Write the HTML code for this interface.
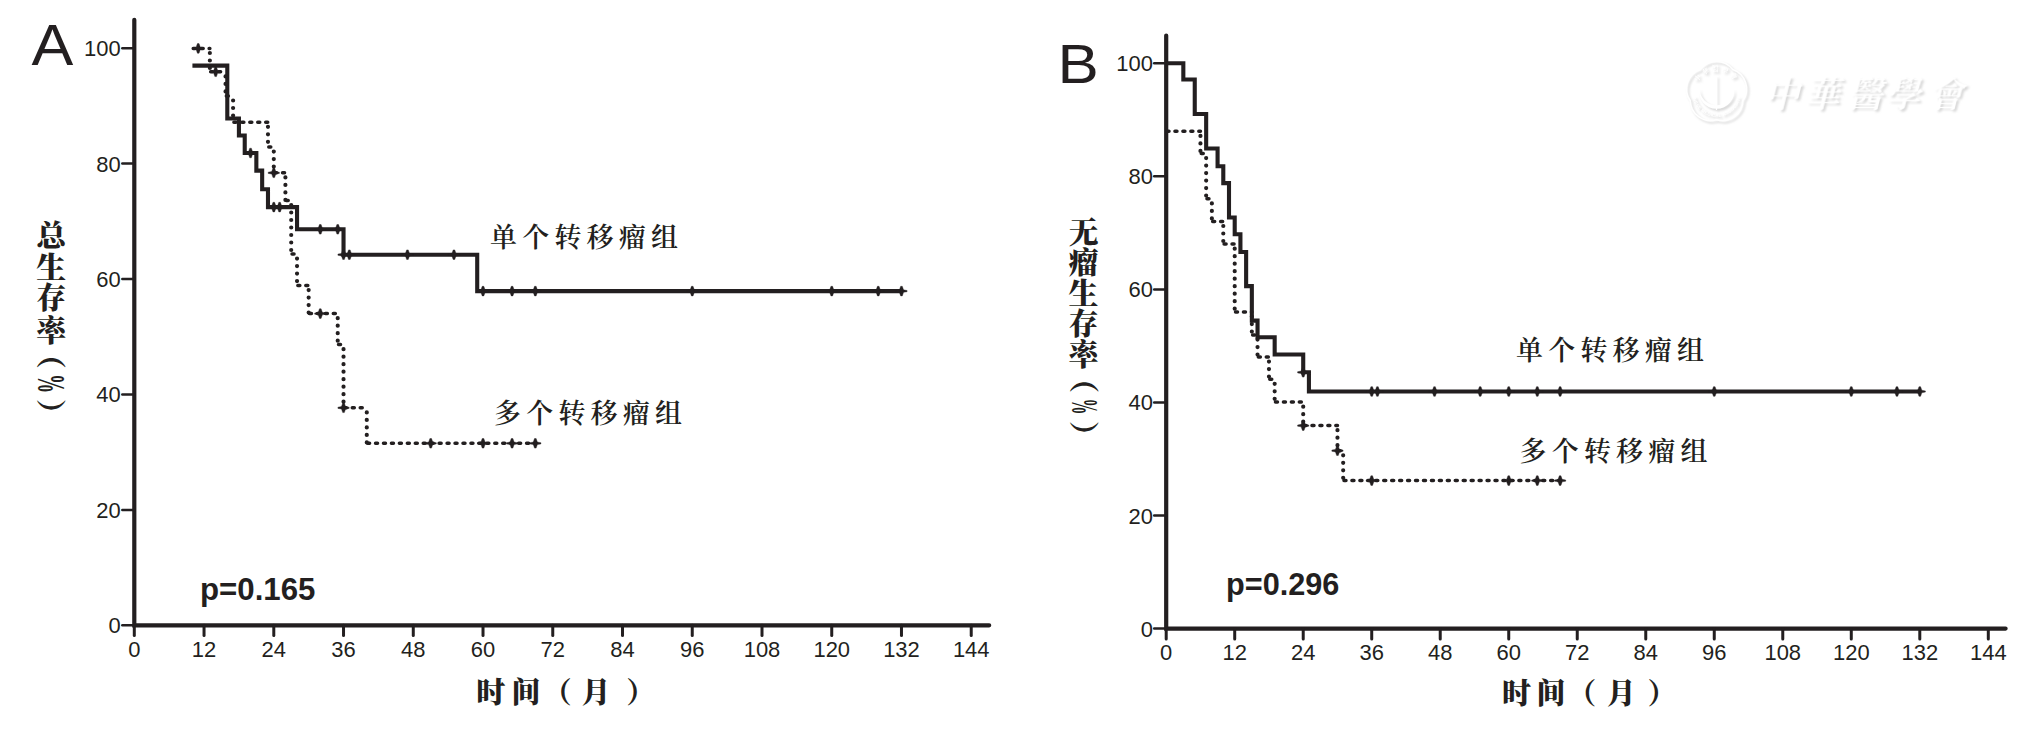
<!DOCTYPE html>
<html lang="zh-CN">
<head>
<meta charset="utf-8">
<title>生存曲线</title>
<style>
html,body{margin:0;padding:0;background:#fff;}
#fig{position:relative;width:2027px;height:730px;background:#fff;overflow:hidden;}
#fig svg{position:absolute;left:0;top:0;display:block;}
</style>
</head>
<body>
<div id="fig">
<svg width="2027" height="730" viewBox="0 0 2027 730" font-family="'Liberation Sans', sans-serif" fill="#231f20">
<!-- chart A -->
<path d="M134.3 19.8 V625.3 H989.2" fill="none" stroke="#231f20" stroke-width="4.2" stroke-linecap="round" stroke-linejoin="miter"/>
<path d="M122.3 625.3 H134.3" stroke="#231f20" stroke-width="2.5" stroke-linecap="round"/>
<text transform="translate(120.7 633.3) scale(0.963 1)" text-anchor="end" font-size="22.8">0</text>
<path d="M122.3 509.88 H134.3" stroke="#231f20" stroke-width="2.5" stroke-linecap="round"/>
<text transform="translate(120.7 517.88) scale(0.963 1)" text-anchor="end" font-size="22.8">20</text>
<path d="M122.3 394.46 H134.3" stroke="#231f20" stroke-width="2.5" stroke-linecap="round"/>
<text transform="translate(120.7 402.46) scale(0.963 1)" text-anchor="end" font-size="22.8">40</text>
<path d="M122.3 279.04 H134.3" stroke="#231f20" stroke-width="2.5" stroke-linecap="round"/>
<text transform="translate(120.7 287.04) scale(0.963 1)" text-anchor="end" font-size="22.8">60</text>
<path d="M122.3 163.62 H134.3" stroke="#231f20" stroke-width="2.5" stroke-linecap="round"/>
<text transform="translate(120.7 171.62) scale(0.963 1)" text-anchor="end" font-size="22.8">80</text>
<path d="M122.3 48.2 H134.3" stroke="#231f20" stroke-width="2.5" stroke-linecap="round"/>
<text transform="translate(120.7 56.2) scale(0.963 1)" text-anchor="end" font-size="22.8">100</text>
<path d="M134.3 625.3 V635.6" stroke="#231f20" stroke-width="3.0" stroke-linecap="round"/>
<text transform="translate(134.3 657.3) scale(0.963 1)" text-anchor="middle" font-size="22.8">0</text>
<path d="M204.04 625.3 V635.6" stroke="#231f20" stroke-width="3.0" stroke-linecap="round"/>
<text transform="translate(204.04 657.3) scale(0.963 1)" text-anchor="middle" font-size="22.8">12</text>
<path d="M273.79 625.3 V635.6" stroke="#231f20" stroke-width="3.0" stroke-linecap="round"/>
<text transform="translate(273.79 657.3) scale(0.963 1)" text-anchor="middle" font-size="22.8">24</text>
<path d="M343.53 625.3 V635.6" stroke="#231f20" stroke-width="3.0" stroke-linecap="round"/>
<text transform="translate(343.53 657.3) scale(0.963 1)" text-anchor="middle" font-size="22.8">36</text>
<path d="M413.28 625.3 V635.6" stroke="#231f20" stroke-width="3.0" stroke-linecap="round"/>
<text transform="translate(413.28 657.3) scale(0.963 1)" text-anchor="middle" font-size="22.8">48</text>
<path d="M483.02 625.3 V635.6" stroke="#231f20" stroke-width="3.0" stroke-linecap="round"/>
<text transform="translate(483.02 657.3) scale(0.963 1)" text-anchor="middle" font-size="22.8">60</text>
<path d="M552.76 625.3 V635.6" stroke="#231f20" stroke-width="3.0" stroke-linecap="round"/>
<text transform="translate(552.76 657.3) scale(0.963 1)" text-anchor="middle" font-size="22.8">72</text>
<path d="M622.51 625.3 V635.6" stroke="#231f20" stroke-width="3.0" stroke-linecap="round"/>
<text transform="translate(622.51 657.3) scale(0.963 1)" text-anchor="middle" font-size="22.8">84</text>
<path d="M692.25 625.3 V635.6" stroke="#231f20" stroke-width="3.0" stroke-linecap="round"/>
<text transform="translate(692.25 657.3) scale(0.963 1)" text-anchor="middle" font-size="22.8">96</text>
<path d="M762 625.3 V635.6" stroke="#231f20" stroke-width="3.0" stroke-linecap="round"/>
<text transform="translate(762 657.3) scale(0.963 1)" text-anchor="middle" font-size="22.8">108</text>
<path d="M831.74 625.3 V635.6" stroke="#231f20" stroke-width="3.0" stroke-linecap="round"/>
<text transform="translate(831.74 657.3) scale(0.963 1)" text-anchor="middle" font-size="22.8">120</text>
<path d="M901.48 625.3 V635.6" stroke="#231f20" stroke-width="3.0" stroke-linecap="round"/>
<text transform="translate(901.48 657.3) scale(0.963 1)" text-anchor="middle" font-size="22.8">132</text>
<path d="M971.23 625.3 V635.6" stroke="#231f20" stroke-width="3.0" stroke-linecap="round"/>
<text transform="translate(971.23 657.3) scale(0.963 1)" text-anchor="middle" font-size="22.8">144</text>
<path d="M193.22 48.4H209.86 M210.66 71.8H225.55 M226.35 95.9H233.1 M233.9 122.2H267.98 M268.78 147H273.79 M274.59 172.8H285.41 M286.21 200.4H291.22 M292.02 254H297.04 M297.84 285.5H308.66 M309.46 313.6H337.72 M338.52 344.6H343.53 M344.33 407.8H366.78 M367.58 443.3H535.33" fill="none" stroke="#231f20" stroke-width="3.5" stroke-linecap="round" stroke-dasharray="2 5.95"/>
<path d="M209.86 48.4V71.8 M225.55 71.8V95.9 M233.1 95.9V122.2 M267.98 122.2V147 M273.79 147V172.8 M285.41 172.8V200.4 M291.22 200.4V254 M297.04 254V285.5 M308.66 285.5V313.6 M337.72 313.6V344.6 M343.53 344.6V407.8 M366.78 407.8V443.3" fill="none" stroke="#231f20" stroke-width="4.2" stroke-linecap="round" stroke-dasharray="0.01 7.49" stroke-dashoffset="-4.6"/>
<path d="M192.42 65.6 L227.29 65.6 L227.29 118.5 L238.92 118.5 L238.92 135.5 L244.73 135.5 L244.73 153 L256.35 153 L256.35 170.6 L262.16 170.6 L262.16 189.2 L267.98 189.2 L267.98 207.1 L297.04 207.1 L297.04 229.3 L343.53 229.3 L343.53 254.7 L477.21 254.7 L477.21 291.1 L901.48 291.1" fill="none" stroke="#231f20" stroke-width="4.1" stroke-linejoin="miter"/>
<g fill="#231f20" stroke="#231f20" stroke-width="0.4" stroke-linejoin="round">
<path d="M249.74 148.2L251.34 148.2L252.39 151.2L252.39 154.8L251.34 157.8L249.74 157.8L248.69 154.8L248.69 151.2ZM244.94 152.4L248.54 151.75L252.54 151.75L256.14 152.4L256.14 153.6L252.54 154.25L248.54 154.25L244.94 153.6Z"/>
<path d="M272.99 202.3L274.59 202.3L275.64 205.3L275.64 208.9L274.59 211.9L272.99 211.9L271.94 208.9L271.94 205.3ZM268.19 206.5L271.79 205.85L275.79 205.85L279.39 206.5L279.39 207.7L275.79 208.35L271.79 208.35L268.19 207.7Z"/>
<path d="M278.8 202.3L280.4 202.3L281.45 205.3L281.45 208.9L280.4 211.9L278.8 211.9L277.75 208.9L277.75 205.3ZM274 206.5L277.6 205.85L281.6 205.85L285.2 206.5L285.2 207.7L281.6 208.35L277.6 208.35L274 207.7Z"/>
<path d="M319.48 224.5L321.08 224.5L322.13 227.5L322.13 231.1L321.08 234.1L319.48 234.1L318.43 231.1L318.43 227.5ZM314.68 228.7L318.28 228.05L322.28 228.05L325.88 228.7L325.88 229.9L322.28 230.55L318.28 230.55L314.68 229.9Z"/>
<path d="M336.92 224.5L338.52 224.5L339.57 227.5L339.57 231.1L338.52 234.1L336.92 234.1L335.87 231.1L335.87 227.5ZM332.12 228.7L335.72 228.05L339.72 228.05L343.32 228.7L343.32 229.9L339.72 230.55L335.72 230.55L332.12 229.9Z"/>
<path d="M342.73 249.9L344.33 249.9L345.38 252.9L345.38 256.5L344.33 259.5L342.73 259.5L341.68 256.5L341.68 252.9ZM337.93 254.1L341.53 253.45L345.53 253.45L349.13 254.1L349.13 255.3L345.53 255.95L341.53 255.95L337.93 255.3Z"/>
<path d="M348.54 249.9L350.14 249.9L351.19 252.9L351.19 256.5L350.14 259.5L348.54 259.5L347.49 256.5L347.49 252.9ZM343.74 254.1L347.34 253.45L351.34 253.45L354.94 254.1L354.94 255.3L351.34 255.95L347.34 255.95L343.74 255.3Z"/>
<path d="M406.66 249.9L408.26 249.9L409.31 252.9L409.31 256.5L408.26 259.5L406.66 259.5L405.61 256.5L405.61 252.9ZM401.86 254.1L405.46 253.45L409.46 253.45L413.06 254.1L413.06 255.3L409.46 255.95L405.46 255.95L401.86 255.3Z"/>
<path d="M453.16 249.9L454.76 249.9L455.81 252.9L455.81 256.5L454.76 259.5L453.16 259.5L452.11 256.5L452.11 252.9ZM448.36 254.1L451.96 253.45L455.96 253.45L459.56 254.1L459.56 255.3L455.96 255.95L451.96 255.95L448.36 255.3Z"/>
<path d="M482.22 286.3L483.82 286.3L484.87 289.3L484.87 292.9L483.82 295.9L482.22 295.9L481.17 292.9L481.17 289.3ZM477.42 290.5L481.02 289.85L485.02 289.85L488.62 290.5L488.62 291.7L485.02 292.35L481.02 292.35L477.42 291.7Z"/>
<path d="M511.28 286.3L512.88 286.3L513.93 289.3L513.93 292.9L512.88 295.9L511.28 295.9L510.23 292.9L510.23 289.3ZM506.48 290.5L510.08 289.85L514.08 289.85L517.68 290.5L517.68 291.7L514.08 292.35L510.08 292.35L506.48 291.7Z"/>
<path d="M534.53 286.3L536.13 286.3L537.18 289.3L537.18 292.9L536.13 295.9L534.53 295.9L533.48 292.9L533.48 289.3ZM529.73 290.5L533.33 289.85L537.33 289.85L540.93 290.5L540.93 291.7L537.33 292.35L533.33 292.35L529.73 291.7Z"/>
<path d="M691.45 286.3L693.05 286.3L694.1 289.3L694.1 292.9L693.05 295.9L691.45 295.9L690.4 292.9L690.4 289.3ZM686.65 290.5L690.25 289.85L694.25 289.85L697.85 290.5L697.85 291.7L694.25 292.35L690.25 292.35L686.65 291.7Z"/>
<path d="M830.94 286.3L832.54 286.3L833.59 289.3L833.59 292.9L832.54 295.9L830.94 295.9L829.89 292.9L829.89 289.3ZM826.14 290.5L829.74 289.85L833.74 289.85L837.34 290.5L837.34 291.7L833.74 292.35L829.74 292.35L826.14 291.7Z"/>
<path d="M877.44 286.3L879.04 286.3L880.09 289.3L880.09 292.9L879.04 295.9L877.44 295.9L876.39 292.9L876.39 289.3ZM872.64 290.5L876.24 289.85L880.24 289.85L883.84 290.5L883.84 291.7L880.24 292.35L876.24 292.35L872.64 291.7Z"/>
<path d="M900.68 286.3L902.28 286.3L903.33 289.3L903.33 292.9L902.28 295.9L900.68 295.9L899.63 292.9L899.63 289.3ZM895.88 290.5L899.48 289.85L903.48 289.85L907.08 290.5L907.08 291.7L903.48 292.35L899.48 292.35L895.88 291.7Z"/>
<path d="M197.43 43.6L199.03 43.6L200.08 46.6L200.08 50.2L199.03 53.2L197.43 53.2L196.38 50.2L196.38 46.6ZM192.63 47.8L196.23 47.15L200.23 47.15L203.83 47.8L203.83 49L200.23 49.65L196.23 49.65L192.63 49Z"/>
<path d="M214.87 67L216.47 67L217.52 70L217.52 73.6L216.47 76.6L214.87 76.6L213.82 73.6L213.82 70ZM210.07 71.2L213.67 70.55L217.67 70.55L221.27 71.2L221.27 72.4L217.67 73.05L213.67 73.05L210.07 72.4Z"/>
<path d="M272.99 168L274.59 168L275.64 171L275.64 174.6L274.59 177.6L272.99 177.6L271.94 174.6L271.94 171ZM268.19 172.2L271.79 171.55L275.79 171.55L279.39 172.2L279.39 173.4L275.79 174.05L271.79 174.05L268.19 173.4Z"/>
<path d="M319.48 308.8L321.08 308.8L322.13 311.8L322.13 315.4L321.08 318.4L319.48 318.4L318.43 315.4L318.43 311.8ZM314.68 313L318.28 312.35L322.28 312.35L325.88 313L325.88 314.2L322.28 314.85L318.28 314.85L314.68 314.2Z"/>
<path d="M342.73 403L344.33 403L345.38 406L345.38 409.6L344.33 412.6L342.73 412.6L341.68 409.6L341.68 406ZM337.93 407.2L341.53 406.55L345.53 406.55L349.13 407.2L349.13 408.4L345.53 409.05L341.53 409.05L337.93 408.4Z"/>
<path d="M429.91 438.5L431.51 438.5L432.56 441.5L432.56 445.1L431.51 448.1L429.91 448.1L428.86 445.1L428.86 441.5ZM425.11 442.7L428.71 442.05L432.71 442.05L436.31 442.7L436.31 443.9L432.71 444.55L428.71 444.55L425.11 443.9Z"/>
<path d="M482.22 438.5L483.82 438.5L484.87 441.5L484.87 445.1L483.82 448.1L482.22 448.1L481.17 445.1L481.17 441.5ZM477.42 442.7L481.02 442.05L485.02 442.05L488.62 442.7L488.62 443.9L485.02 444.55L481.02 444.55L477.42 443.9Z"/>
<path d="M511.28 438.5L512.88 438.5L513.93 441.5L513.93 445.1L512.88 448.1L511.28 448.1L510.23 445.1L510.23 441.5ZM506.48 442.7L510.08 442.05L514.08 442.05L517.68 442.7L517.68 443.9L514.08 444.55L510.08 444.55L506.48 443.9Z"/>
<path d="M534.53 438.5L536.13 438.5L537.18 441.5L537.18 445.1L536.13 448.1L534.53 448.1L533.48 445.1L533.48 441.5ZM529.73 442.7L533.33 442.05L537.33 442.05L540.93 442.7L540.93 443.9L537.33 444.55L533.33 444.55L529.73 443.9Z"/>
</g>
<!-- chart B -->
<path d="M1166.2 35.5 V628.6 H2005.6" fill="none" stroke="#231f20" stroke-width="4.2" stroke-linecap="round" stroke-linejoin="miter"/>
<path d="M1154.2 628.6 H1166.2" stroke="#231f20" stroke-width="2.5" stroke-linecap="round"/>
<text transform="translate(1152.9 636.6) scale(0.963 1)" text-anchor="end" font-size="22.8">0</text>
<path d="M1154.2 515.54 H1166.2" stroke="#231f20" stroke-width="2.5" stroke-linecap="round"/>
<text transform="translate(1152.9 523.54) scale(0.963 1)" text-anchor="end" font-size="22.8">20</text>
<path d="M1154.2 402.48 H1166.2" stroke="#231f20" stroke-width="2.5" stroke-linecap="round"/>
<text transform="translate(1152.9 410.48) scale(0.963 1)" text-anchor="end" font-size="22.8">40</text>
<path d="M1154.2 289.42 H1166.2" stroke="#231f20" stroke-width="2.5" stroke-linecap="round"/>
<text transform="translate(1152.9 297.42) scale(0.963 1)" text-anchor="end" font-size="22.8">60</text>
<path d="M1154.2 176.36 H1166.2" stroke="#231f20" stroke-width="2.5" stroke-linecap="round"/>
<text transform="translate(1152.9 184.36) scale(0.963 1)" text-anchor="end" font-size="22.8">80</text>
<path d="M1154.2 63.3 H1166.2" stroke="#231f20" stroke-width="2.5" stroke-linecap="round"/>
<text transform="translate(1152.9 71.3) scale(0.963 1)" text-anchor="end" font-size="22.8">100</text>
<path d="M1166.2 628.6 V638.9" stroke="#231f20" stroke-width="3.0" stroke-linecap="round"/>
<text transform="translate(1166.2 660.1) scale(0.963 1)" text-anchor="middle" font-size="22.8">0</text>
<path d="M1234.71 628.6 V638.9" stroke="#231f20" stroke-width="3.0" stroke-linecap="round"/>
<text transform="translate(1234.71 660.1) scale(0.963 1)" text-anchor="middle" font-size="22.8">12</text>
<path d="M1303.22 628.6 V638.9" stroke="#231f20" stroke-width="3.0" stroke-linecap="round"/>
<text transform="translate(1303.22 660.1) scale(0.963 1)" text-anchor="middle" font-size="22.8">24</text>
<path d="M1371.72 628.6 V638.9" stroke="#231f20" stroke-width="3.0" stroke-linecap="round"/>
<text transform="translate(1371.72 660.1) scale(0.963 1)" text-anchor="middle" font-size="22.8">36</text>
<path d="M1440.23 628.6 V638.9" stroke="#231f20" stroke-width="3.0" stroke-linecap="round"/>
<text transform="translate(1440.23 660.1) scale(0.963 1)" text-anchor="middle" font-size="22.8">48</text>
<path d="M1508.74 628.6 V638.9" stroke="#231f20" stroke-width="3.0" stroke-linecap="round"/>
<text transform="translate(1508.74 660.1) scale(0.963 1)" text-anchor="middle" font-size="22.8">60</text>
<path d="M1577.25 628.6 V638.9" stroke="#231f20" stroke-width="3.0" stroke-linecap="round"/>
<text transform="translate(1577.25 660.1) scale(0.963 1)" text-anchor="middle" font-size="22.8">72</text>
<path d="M1645.76 628.6 V638.9" stroke="#231f20" stroke-width="3.0" stroke-linecap="round"/>
<text transform="translate(1645.76 660.1) scale(0.963 1)" text-anchor="middle" font-size="22.8">84</text>
<path d="M1714.26 628.6 V638.9" stroke="#231f20" stroke-width="3.0" stroke-linecap="round"/>
<text transform="translate(1714.26 660.1) scale(0.963 1)" text-anchor="middle" font-size="22.8">96</text>
<path d="M1782.77 628.6 V638.9" stroke="#231f20" stroke-width="3.0" stroke-linecap="round"/>
<text transform="translate(1782.77 660.1) scale(0.963 1)" text-anchor="middle" font-size="22.8">108</text>
<path d="M1851.28 628.6 V638.9" stroke="#231f20" stroke-width="3.0" stroke-linecap="round"/>
<text transform="translate(1851.28 660.1) scale(0.963 1)" text-anchor="middle" font-size="22.8">120</text>
<path d="M1919.79 628.6 V638.9" stroke="#231f20" stroke-width="3.0" stroke-linecap="round"/>
<text transform="translate(1919.79 660.1) scale(0.963 1)" text-anchor="middle" font-size="22.8">132</text>
<path d="M1988.3 628.6 V638.9" stroke="#231f20" stroke-width="3.0" stroke-linecap="round"/>
<text transform="translate(1988.3 660.1) scale(0.963 1)" text-anchor="middle" font-size="22.8">144</text>
<path d="M1167 131.3H1200.45 M1201.25 153.5H1206.16 M1206.96 198.8H1211.87 M1212.67 221.4H1223.29 M1224.09 244.1H1234.71 M1235.51 312H1251.84 M1252.63 335H1257.54 M1258.34 357H1268.96 M1269.76 379.2H1274.67 M1275.47 402.1H1303.22 M1304.02 425.6H1337.47 M1338.27 450.7H1343.18 M1343.98 480.6H1560.12" fill="none" stroke="#231f20" stroke-width="3.5" stroke-linecap="round" stroke-dasharray="2 5.95"/>
<path d="M1200.45 131.3V153.5 M1206.16 153.5V198.8 M1211.87 198.8V221.4 M1223.29 221.4V244.1 M1234.71 244.1V312 M1251.84 312V335 M1257.54 335V357 M1268.96 357V379.2 M1274.67 379.2V402.1 M1303.22 402.1V425.6 M1337.47 425.6V450.7 M1343.18 450.7V480.6" fill="none" stroke="#231f20" stroke-width="4.2" stroke-linecap="round" stroke-dasharray="0.01 7.49" stroke-dashoffset="-4.6"/>
<path d="M1166.2 63.3 L1183.33 63.3 L1183.33 79.5 L1194.75 79.5 L1194.75 114 L1206.16 114 L1206.16 148.5 L1217.58 148.5 L1217.58 166.3 L1223.29 166.3 L1223.29 183.1 L1229 183.1 L1229 217.5 L1234.71 217.5 L1234.71 234.3 L1240.42 234.3 L1240.42 252 L1246.13 252 L1246.13 286.1 L1251.84 286.1 L1251.84 320.6 L1257.54 320.6 L1257.54 337.2 L1274.67 337.2 L1274.67 354.5 L1303.22 354.5 L1303.22 372.3 L1308.92 372.3 L1308.92 391.5 L1919.79 391.5" fill="none" stroke="#231f20" stroke-width="4.1" stroke-linejoin="miter"/>
<g fill="#231f20" stroke="#231f20" stroke-width="0.4" stroke-linejoin="round">
<path d="M1302.42 367.5L1304.02 367.5L1305.07 370.5L1305.07 374.1L1304.02 377.1L1302.42 377.1L1301.37 374.1L1301.37 370.5ZM1297.62 371.7L1301.22 371.05L1305.22 371.05L1308.82 371.7L1308.82 372.9L1305.22 373.55L1301.22 373.55L1297.62 372.9Z"/>
<path d="M1370.92 386.7L1372.52 386.7L1373.57 389.7L1373.57 393.3L1372.52 396.3L1370.92 396.3L1369.87 393.3L1369.87 389.7ZM1366.12 390.9L1369.72 390.25L1373.72 390.25L1377.32 390.9L1377.32 392.1L1373.72 392.75L1369.72 392.75L1366.12 392.1Z"/>
<path d="M1376.63 386.7L1378.23 386.7L1379.28 389.7L1379.28 393.3L1378.23 396.3L1376.63 396.3L1375.58 393.3L1375.58 389.7ZM1371.83 390.9L1375.43 390.25L1379.43 390.25L1383.03 390.9L1383.03 392.1L1379.43 392.75L1375.43 392.75L1371.83 392.1Z"/>
<path d="M1433.72 386.7L1435.32 386.7L1436.37 389.7L1436.37 393.3L1435.32 396.3L1433.72 396.3L1432.67 393.3L1432.67 389.7ZM1428.92 390.9L1432.52 390.25L1436.52 390.25L1440.12 390.9L1440.12 392.1L1436.52 392.75L1432.52 392.75L1428.92 392.1Z"/>
<path d="M1479.4 386.7L1481 386.7L1482.05 389.7L1482.05 393.3L1481 396.3L1479.4 396.3L1478.35 393.3L1478.35 389.7ZM1474.6 390.9L1478.2 390.25L1482.2 390.25L1485.8 390.9L1485.8 392.1L1482.2 392.75L1478.2 392.75L1474.6 392.1Z"/>
<path d="M1507.94 386.7L1509.54 386.7L1510.59 389.7L1510.59 393.3L1509.54 396.3L1507.94 396.3L1506.89 393.3L1506.89 389.7ZM1503.14 390.9L1506.74 390.25L1510.74 390.25L1514.34 390.9L1514.34 392.1L1510.74 392.75L1506.74 392.75L1503.14 392.1Z"/>
<path d="M1536.49 386.7L1538.09 386.7L1539.13 389.7L1539.13 393.3L1538.09 396.3L1536.49 396.3L1535.44 393.3L1535.44 389.7ZM1531.69 390.9L1535.29 390.25L1539.29 390.25L1542.88 390.9L1542.88 392.1L1539.29 392.75L1535.29 392.75L1531.69 392.1Z"/>
<path d="M1559.32 386.7L1560.92 386.7L1561.97 389.7L1561.97 393.3L1560.92 396.3L1559.32 396.3L1558.27 393.3L1558.27 389.7ZM1554.52 390.9L1558.12 390.25L1562.12 390.25L1565.72 390.9L1565.72 392.1L1562.12 392.75L1558.12 392.75L1554.52 392.1Z"/>
<path d="M1713.46 386.7L1715.06 386.7L1716.11 389.7L1716.11 393.3L1715.06 396.3L1713.46 396.3L1712.41 393.3L1712.41 389.7ZM1708.66 390.9L1712.26 390.25L1716.26 390.25L1719.86 390.9L1719.86 392.1L1716.26 392.75L1712.26 392.75L1708.66 392.1Z"/>
<path d="M1850.48 386.7L1852.08 386.7L1853.13 389.7L1853.13 393.3L1852.08 396.3L1850.48 396.3L1849.43 393.3L1849.43 389.7ZM1845.68 390.9L1849.28 390.25L1853.28 390.25L1856.88 390.9L1856.88 392.1L1853.28 392.75L1849.28 392.75L1845.68 392.1Z"/>
<path d="M1896.15 386.7L1897.75 386.7L1898.8 389.7L1898.8 393.3L1897.75 396.3L1896.15 396.3L1895.1 393.3L1895.1 389.7ZM1891.35 390.9L1894.95 390.25L1898.95 390.25L1902.55 390.9L1902.55 392.1L1898.95 392.75L1894.95 392.75L1891.35 392.1Z"/>
<path d="M1918.99 386.7L1920.59 386.7L1921.64 389.7L1921.64 393.3L1920.59 396.3L1918.99 396.3L1917.94 393.3L1917.94 389.7ZM1914.19 390.9L1917.79 390.25L1921.79 390.25L1925.39 390.9L1925.39 392.1L1921.79 392.75L1917.79 392.75L1914.19 392.1Z"/>
<path d="M1302.42 420.8L1304.02 420.8L1305.07 423.8L1305.07 427.4L1304.02 430.4L1302.42 430.4L1301.37 427.4L1301.37 423.8ZM1297.62 425L1301.22 424.35L1305.22 424.35L1308.82 425L1308.82 426.2L1305.22 426.85L1301.22 426.85L1297.62 426.2Z"/>
<path d="M1336.67 445.9L1338.27 445.9L1339.32 448.9L1339.32 452.5L1338.27 455.5L1336.67 455.5L1335.62 452.5L1335.62 448.9ZM1331.87 450.1L1335.47 449.45L1339.47 449.45L1343.07 450.1L1343.07 451.3L1339.47 451.95L1335.47 451.95L1331.87 451.3Z"/>
<path d="M1370.92 475.8L1372.52 475.8L1373.57 478.8L1373.57 482.4L1372.52 485.4L1370.92 485.4L1369.87 482.4L1369.87 478.8ZM1366.12 480L1369.72 479.35L1373.72 479.35L1377.32 480L1377.32 481.2L1373.72 481.85L1369.72 481.85L1366.12 481.2Z"/>
<path d="M1507.94 475.8L1509.54 475.8L1510.59 478.8L1510.59 482.4L1509.54 485.4L1507.94 485.4L1506.89 482.4L1506.89 478.8ZM1503.14 480L1506.74 479.35L1510.74 479.35L1514.34 480L1514.34 481.2L1510.74 481.85L1506.74 481.85L1503.14 481.2Z"/>
<path d="M1536.49 475.8L1538.09 475.8L1539.13 478.8L1539.13 482.4L1538.09 485.4L1536.49 485.4L1535.44 482.4L1535.44 478.8ZM1531.69 480L1535.29 479.35L1539.29 479.35L1542.88 480L1542.88 481.2L1539.29 481.85L1535.29 481.85L1531.69 481.2Z"/>
<path d="M1559.32 475.8L1560.92 475.8L1561.97 478.8L1561.97 482.4L1560.92 485.4L1559.32 485.4L1558.27 482.4L1558.27 478.8ZM1554.52 480L1558.12 479.35L1562.12 479.35L1565.72 480L1565.72 481.2L1562.12 481.85L1558.12 481.85L1554.52 481.2Z"/>
</g>
<text x="31.5" y="65.4" font-size="56.5" textLength="41.8" lengthAdjust="spacingAndGlyphs">A</text>
<text x="1057.6" y="83.1" font-size="55.4" textLength="41.3" lengthAdjust="spacingAndGlyphs">B</text>
<text x="200" y="599.8" font-size="30.6" font-weight="bold" textLength="115.4" lengthAdjust="spacingAndGlyphs">p=0.165</text>
<text x="1226" y="594.6" font-size="30.6" font-weight="bold" textLength="113.4" lengthAdjust="spacingAndGlyphs">p=0.296</text>
<text x="490" y="247" font-family="'Liberation Serif', 'Noto Serif CJK SC', serif" font-weight="600" font-size="27" letter-spacing="5.2">单个转移瘤组</text>
<text x="494" y="422.5" font-family="'Liberation Serif', 'Noto Serif CJK SC', serif" font-weight="600" font-size="27" letter-spacing="5.2">多个转移瘤组</text>
<text x="1516" y="360" font-family="'Liberation Serif', 'Noto Serif CJK SC', serif" font-weight="600" font-size="27" letter-spacing="5.2">单个转移瘤组</text>
<text x="1519.5" y="460.5" font-family="'Liberation Serif', 'Noto Serif CJK SC', serif" font-weight="600" font-size="27" letter-spacing="5.2">多个转移瘤组</text>
<text x="476.2 511.6 542.8 581.5 626.2" y="703.2" font-family="'Liberation Serif', 'Noto Serif CJK SC', serif" font-weight="900" font-size="29">时间（月）</text>
<text x="1501.9 1536.5 1567.3 1606.7 1647.5" y="703.6" font-family="'Liberation Serif', 'Noto Serif CJK SC', serif" font-weight="900" font-size="29">时间（月）</text>
<text x="51.2 51.2 51.2 51.2" y="246 277.5 308 340.5" text-anchor="middle" font-family="'Liberation Serif', 'Noto Serif CJK SC', serif" font-weight="900" font-size="30">总生存率</text>
<text transform="translate(51.2 354) rotate(90)" text-anchor="middle" y="11.5" font-family="'Liberation Serif', 'Noto Serif CJK SC', serif" font-weight="900" font-size="30">（</text>
<text transform="translate(51.2 383.5) rotate(90) scale(0.64 1.35)" text-anchor="middle" y="10.1" font-family="'Liberation Serif', 'Noto Serif CJK SC', serif" font-weight="900" font-size="30">%</text>
<text transform="translate(51.2 413.7) rotate(90)" text-anchor="middle" y="11.5" font-family="'Liberation Serif', 'Noto Serif CJK SC', serif" font-weight="900" font-size="30">）</text>
<text x="1083.6 1083.6 1083.6 1083.6 1083.6" y="243 273 303.5 334 364.5" text-anchor="middle" font-family="'Liberation Serif', 'Noto Serif CJK SC', serif" font-weight="900" font-size="30">无瘤生存率</text>
<text transform="translate(1083.6 378.3) rotate(90)" text-anchor="middle" y="10.5" font-family="'Liberation Serif', 'Noto Serif CJK SC', serif" font-weight="900" font-size="30">（</text>
<text transform="translate(1083.6 406.4) rotate(90) scale(0.53 1.27)" text-anchor="middle" y="9.3" font-family="'Liberation Serif', 'Noto Serif CJK SC', serif" font-weight="900" font-size="30">%</text>
<text transform="translate(1083.6 435.8) rotate(90)" text-anchor="middle" y="10.5" font-family="'Liberation Serif', 'Noto Serif CJK SC', serif" font-weight="900" font-size="30">）</text>
<defs><filter id="wmEmboss" x="-5%" y="-25%" width="110%" height="150%"><feGaussianBlur in="SourceAlpha" stdDeviation="0.9" result="b"/><feOffset in="b" dx="1.6" dy="1.8" result="o"/><feFlood flood-color="#d6d6d6"/><feComposite in2="o" operator="in" result="s"/><feMerge><feMergeNode in="s"/><feMergeNode in="SourceGraphic"/></feMerge></filter><path id="wmTop" d="M1695.5 92 A21 21 0 0 1 1737.5 92" fill="none" stroke="none"/><path id="wmBot" d="M1692.2 96 A24.6 24.6 0 0 0 1740.8 96" fill="none" stroke="none"/></defs>
<g id="watermark" fill="none" stroke-width="1.6" color="#ffffff" stroke="#ffffff" filter="url(#wmEmboss)"><path d="M1700.2 69.57 A20.5 20.5 0 0 1 1732.8 69.57 A20.5 20.5 0 0 1 1742.87 100.57 A20.5 20.5 0 0 1 1716.5 119.73 A20.5 20.5 0 0 1 1690.13 100.57 A20.5 20.5 0 0 1 1700.2 69.57Z"/><path d="M1699.2 88 A17.6 17.6 0 1 0 1733.8 88 A15 15 0 1 1 1699.2 88Z" fill="currentColor" stroke="none"/><path d="M1716.5 76 V110" stroke-width="1.2"/><text font-size="6.5" font-weight="bold" letter-spacing="2.6" stroke="none" fill="currentColor" font-family="'Liberation Serif', 'Noto Serif CJK TC', serif"><textPath href="#wmTop" startOffset="50%" text-anchor="middle">中華醫學會</textPath></text><text font-size="4.6" font-weight="bold" letter-spacing="0.2" stroke="none" fill="currentColor" font-family="'Liberation Sans', sans-serif"><textPath href="#wmBot" startOffset="50%" text-anchor="middle">CHINESE MEDICAL ASSOCIATION</textPath></text><text transform="translate(0 107) skewX(-14)" x="1782 1822 1865 1903 1946" y="0" text-anchor="middle" font-size="35" font-weight="600" stroke="none" fill="currentColor" font-family="'Liberation Serif', 'Noto Serif CJK TC', serif">中華醫學會</text></g>
</svg>
</div>
</body>
</html>
